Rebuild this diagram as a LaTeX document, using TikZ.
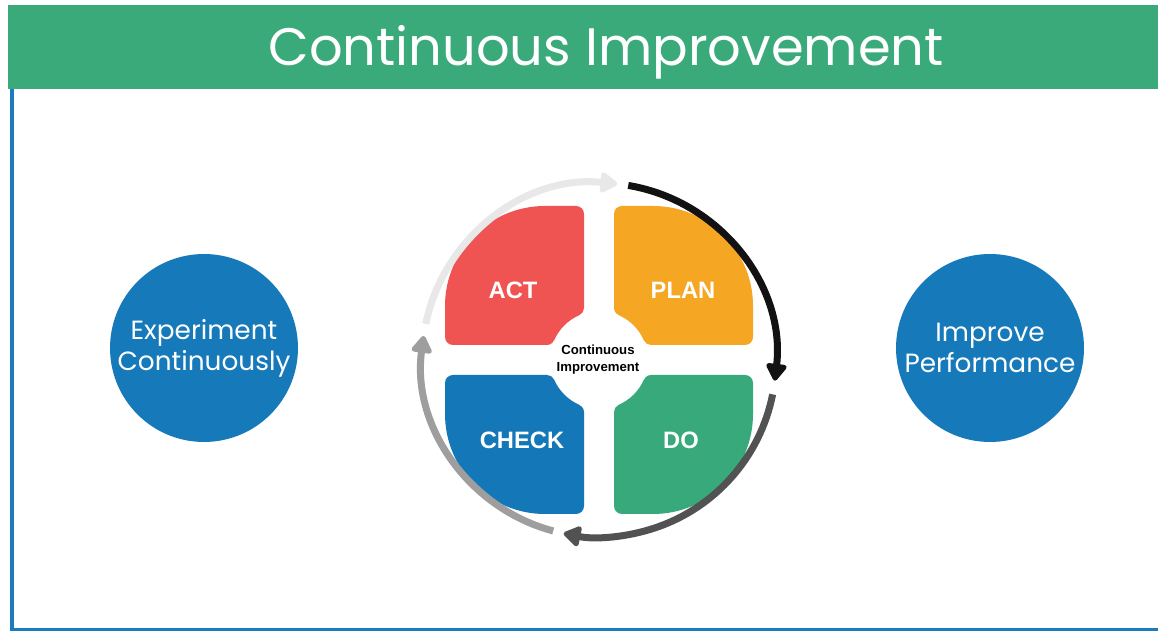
\documentclass[tikz,border=0pt]{standalone}
\usepackage{fontspec}
\setmainfont{Poppins}
\newfontfamily\pdcafont{Liberation Sans}
\usetikzlibrary{arrows.meta,calc}

\definecolor{bandgreen}{HTML}{3AAA7A}
\definecolor{frameblue}{HTML}{1A7CBF}
\definecolor{circblue}{HTML}{1679BA}
\definecolor{actred}{HTML}{EF5452}
\definecolor{plangold}{HTML}{F5A623}
\definecolor{checkblue}{HTML}{1377B8}
\definecolor{dogreen}{HTML}{38A97A}

\tikzset{
	sidecircle/.style={circle, fill=circblue, minimum size=3.76cm, inner sep=0pt,
		align=center, text=white, font=\fontsize{15}{17.6}\selectfont},
	quad/.style={line width=0.32cm, line join=round},
	quadlabel/.style={text=white, font=\pdcafont\bfseries\fontsize{13.5}{16}\selectfont},
	ringarrow/.style={line width=0.14cm, -{Triangle[width=0.46cm,length=0.38cm,round]}}
}

\begin{document}
\begin{tikzpicture}[x=0.02cm,y=0.02cm]
	\useasboundingbox (0,0) rectangle (1158,631);
	\fill[white] (0,0) rectangle (1158,631);
	% header band
	\fill[bandgreen] (8,542) rectangle (1158,626);
	\node[text=white, font=\fontsize{30}{36}\selectfont] (title) at (606,579) {Continuous Improvement};
	% frame lines
	\fill[frameblue] (10,0) rectangle (14,542);
	\fill[frameblue] (10,0) rectangle (1158,3);
	% side circles
	\node[sidecircle] (expe) at (204,283) {Experiment\\Continuously};
	\node[sidecircle] (perf) at (990,283) {Improve\\Performance};
	% quadrants
	\coordinate (ctr) at (599,271);
	\def\quadpath{(23,52.15) -- (23,146) -- (54,146) arc[start angle=90,end angle=0,radius=92] -- (146,23) -- (52.15,23) arc[start angle=23.8,end angle=66.2,radius=57] -- cycle}
	\begin{scope}[shift={(ctr)}]
		\filldraw[quad, fill=plangold, draw=plangold] \quadpath;
		\filldraw[quad, fill=actred, draw=actred, rotate=90] \quadpath;
		\filldraw[quad, fill=checkblue, draw=checkblue, rotate=180] \quadpath;
		\filldraw[quad, fill=dogreen, draw=dogreen, rotate=270] \quadpath;
	\end{scope}
	\node[quadlabel] (act) at (513,341) {ACT};
	\node[quadlabel] (plan) at (683,341) {PLAN};
	\node[quadlabel] (check) at (522,191) {CHECK};
	\node[quadlabel] (do) at (681,191) {DO};
	\node[align=center, font=\pdcafont\bfseries\fontsize{7.5}{9.6}\selectfont] (core) at (598,271) {Continuous\\Improvement};
	% cycle arrows
	\coordinate (p1) at ($(ctr)+(80.5:177)$);
	\coordinate (p2) at ($(ctr)+(-11.2:177)$);
	\coordinate (p3) at ($(ctr)+(-105:177)$);
	\coordinate (p4) at ($(ctr)+(168.2:177)$);
	\draw[ringarrow, black!93] (p1) arc[start angle=80.5, end angle=-6.7, radius=177];
	\draw[ringarrow, black!68] (p2) arc[start angle=-11.2, end angle=-101.5, radius=177];
	\draw[ringarrow, black!38] (p3) arc[start angle=-105, end angle=-187.8, radius=177];
	\draw[ringarrow, black!9] (p4) arc[start angle=168.2, end angle=84.1, radius=177];
\end{tikzpicture}
\end{document}
